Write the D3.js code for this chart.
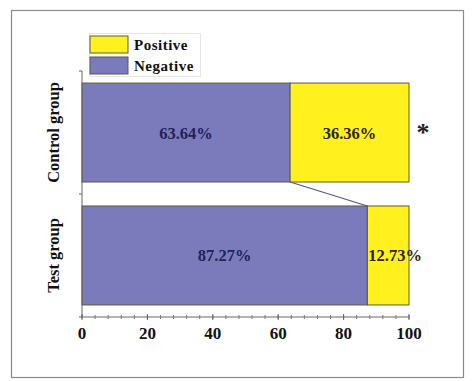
<!DOCTYPE html>
<meta charset="UTF-8">
<style>
    body { margin: 0; background: #fff; }
    text { font-family: "Liberation Serif", "Times New Roman", serif; font-weight: bold; }
</style>
<body>
<div id="chart"></div>
<script src="https://d3js.org/d3.v7.min.js"></script>
<script>
    // data
    var groups = ["Control group", "Test group"];
    var negative = [63.64, 87.27];
    var positive = [36.36, 12.73];
    var xTicks = [0, 20, 40, 60, 80, 100];
    var legendLabels = ["Positive", "Negative"];

    var W = 474, H = 381;
    var colNeg = "#7b7bbc", colPos = "#fff01e", edge = "#5c5a3c";

    var svg = d3.select("#chart").append("svg")
            .attr("width", W)
            .attr("height", H);

    // outer frame
    svg.append("rect")
            .attr("x", 11.5).attr("y", 10.5)
            .attr("width", 452).attr("height", 367)
            .attr("fill", "none").attr("stroke", "#8a8a8a").attr("stroke-width", 1.2);

    var x = d3.scaleLinear().domain([0, 100]).range([82, 409]);
    var y = d3.scaleBand().domain(groups).range([71, 317])
            .paddingInner(0.195).paddingOuter(0.098);

    var rows = groups.map(function (g, i) {
        return {group: g, neg: negative[i], pos: positive[i]};
    });

    // connector between negative ends
    svg.append("line")
            .attr("x1", x(rows[0].neg)).attr("y1", y(rows[0].group) + y.bandwidth())
            .attr("x2", x(rows[1].neg)).attr("y2", y(rows[1].group))
            .attr("stroke", "#555577").attr("stroke-width", 1.2);

    var bar = svg.selectAll("g.bar").data(rows).enter().append("g").attr("class", "bar");

    bar.append("rect")
            .attr("x", x(0))
            .attr("y", function (d) { return y(d.group); })
            .attr("width", function (d) { return x(d.neg) - x(0); })
            .attr("height", y.bandwidth())
            .attr("fill", colNeg).attr("stroke", edge).attr("stroke-width", 1);

    bar.append("rect")
            .attr("x", function (d) { return x(d.neg); })
            .attr("y", function (d) { return y(d.group); })
            .attr("width", function (d) { return x(d.neg + d.pos) - x(d.neg); })
            .attr("height", y.bandwidth())
            .attr("fill", colPos).attr("stroke", edge).attr("stroke-width", 1);

    bar.append("text")
            .attr("x", function (d) { return x(d.neg / 2); })
            .attr("y", function (d) { return y(d.group) + y.bandwidth() / 2 + 6; })
            .attr("text-anchor", "middle")
            .attr("font-size", "16.5px")
            .attr("fill", "#22225a")
            .text(function (d) { return d.neg.toFixed(2) + "%"; });

    bar.append("text")
            .attr("x", function (d) { return d.pos > 20 ? x(d.neg + d.pos / 2) : x(d.neg) + 1; })
            .attr("y", function (d) { return y(d.group) + y.bandwidth() / 2 + 6; })
            .attr("text-anchor", function (d) { return d.pos > 20 ? "middle" : "start"; })
            .attr("font-size", "16.5px")
            .attr("fill", "#2a2614")
            .text(function (d) { return d.pos.toFixed(2) + "%"; });

    // significance star
    svg.append("text")
            .attr("x", 423).attr("y", y(groups[0]) + y.bandwidth() / 2 + 8)
            .attr("text-anchor", "middle")
            .attr("font-size", "26px").attr("fill", "#222")
            .text("*");

    // x axis
    var xAxis = svg.append("g").attr("transform", "translate(0,317)");
    xAxis.append("line").attr("x1", x(0)).attr("x2", x(100))
            .attr("stroke", "#666").attr("stroke-width", 1);
    xAxis.selectAll("line.minor").data(d3.range(0, 101, 4)).enter().append("line")
            .attr("class", "minor")
            .attr("x1", function (d) { return x(d); }).attr("x2", function (d) { return x(d); })
            .attr("y1", -2).attr("y2", 2)
            .attr("stroke", "#777").attr("stroke-width", 1);
    xAxis.selectAll("line.major").data(xTicks).enter().append("line")
            .attr("class", "major")
            .attr("x1", function (d) { return x(d); }).attr("x2", function (d) { return x(d); })
            .attr("y1", -3).attr("y2", 3)
            .attr("stroke", "#666").attr("stroke-width", 1);
    xAxis.selectAll("text").data(xTicks).enter().append("text")
            .attr("x", function (d) { return x(d); })
            .attr("y", 22)
            .attr("text-anchor", "middle")
            .attr("font-size", "17px").attr("fill", "#111")
            .text(function (d) { return d; });

    // y axis
    var yAxis = svg.append("g");
    yAxis.append("line").attr("x1", x(0)).attr("x2", x(0))
            .attr("y1", 71).attr("y2", 317)
            .attr("stroke", "#666").attr("stroke-width", 1);
    yAxis.selectAll("line.tick").data([71, 194, 317]).enter().append("line")
            .attr("class", "tick")
            .attr("x1", x(0) - 3).attr("x2", x(0))
            .attr("y1", function (d) { return d; }).attr("y2", function (d) { return d; })
            .attr("stroke", "#666");
    yAxis.selectAll("text").data(groups).enter().append("text")
            .attr("transform", function (d) {
                return "translate(59," + (y(d) + y.bandwidth() / 2) + ") rotate(-90)";
            })
            .attr("text-anchor", "middle")
            .attr("font-size", "16.5px").attr("fill", "#111")
            .text(function (d) { return d; });

    // legend
    var legend = svg.append("g");
    legend.append("rect")
            .attr("x", 89.5).attr("y", 33.5).attr("width", 111).attr("height", 43)
            .attr("fill", "#fff").attr("stroke", "#ccc").attr("stroke-dasharray", "1,1");
    var item = legend.selectAll("g.item").data(legendLabels).enter().append("g")
            .attr("class", "item")
            .attr("transform", function (d, i) { return "translate(90," + (36 + i * 21) + ")"; });
    item.append("rect")
            .attr("width", 38).attr("height", 17)
            .attr("fill", function (d, i) { return i === 0 ? colPos : colNeg; })
            .attr("stroke", edge).attr("stroke-width", 1);
    item.append("text")
            .attr("x", 44).attr("y", 13.5)
            .attr("font-size", "15px").attr("fill", "#111")
            .attr("letter-spacing", "0.5px")
            .text(function (d) { return d; });
</script>
</body>
